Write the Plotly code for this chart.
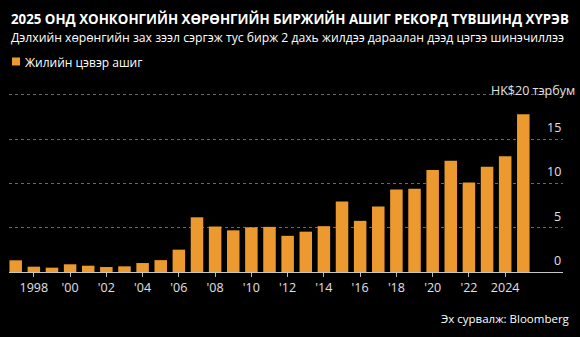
import plotly.graph_objects as go

years = list(range(1997, 2026))
profit = [1.32, 0.60, 0.49, 0.87, 0.71, 0.56, 0.64, 1.01, 1.34, 2.52,
          6.17, 5.13, 4.70, 5.04, 5.09, 4.08, 4.55, 5.17, 7.96, 5.77,
          7.40, 9.31, 9.39, 11.50, 12.54, 10.08, 11.86, 13.05, 17.80]
xtick_vals = list(range(1998, 2025, 2))
xtick_text = ["1998", "'00", "'02", "'04", "'06", "'08", "'10", "'12",
              "'14", "'16", "'18", "'20", "'22", "2024"]
ytick_vals = [0, 5, 10, 15, 20]
ytick_text = ["0", "5", "10", "15", "HK$20 тэрбум"]

title = "2025 ОНД ХОНКОНГИЙН ХӨРӨНГИЙН БИРЖИЙН АШИГ РЕКОРД ТҮВШИНД ХҮРЭВ"
subtitle = "Дэлхийн хөрөнгийн зах зээл сэргэж тус бирж 2 дахь жилдээ дараалан дээд цэгээ шинэчиллээ"
legend_name = "Жилийн цэвэр ашиг"
source = "Эх сурвалж: Bloomberg"

ORANGE = "#EC9A2F"
FONT = "Open Sans"

fig = go.Figure()
fig.add_trace(go.Bar(x=years, y=profit, marker=dict(color=ORANGE, line=dict(width=0)),
                     width=0.69, name=legend_name, showlegend=False))

W, H = 580, 337
ml, mr, mt, mb = 9, 17, 92, 65

fig.update_layout(
    width=W, height=H,
    margin=dict(l=ml, r=mr, t=mt, b=mb),
    paper_bgcolor="#000000", plot_bgcolor="#000000",
    font=dict(family=FONT, color="#e6e6e6", size=12),
    bargap=0.3,
)
fig.update_xaxes(range=[1996.63, 2027.19], tickvals=xtick_vals, ticktext=xtick_text,
                 ticks="outside", ticklen=4, tickcolor="#bbbbbb", tickwidth=1,
                 showgrid=False, zeroline=False, showline=True, linecolor="#c8c8c8",
                 linewidth=1, tickfont=dict(size=12.5, color="#e0e0e0"))
fig.update_yaxes(range=[0, 20.3], tickvals=ytick_vals, showticklabels=False,
                 showgrid=True, gridcolor="#6a6a6a", griddash="dot", gridwidth=1,
                 zeroline=False)

for v, t in zip(ytick_vals, ytick_text):
    fig.add_annotation(x=1, xref="paper", xshift=14 if v == 20 else 0,
                       y=v, yref="y", yshift=-6 if v == 20 else 1, text=t, showarrow=False,
                       xanchor="right", yanchor="bottom",
                       font=dict(size=12.5, color="#e0e0e0"))

fig.add_annotation(x=0, y=1, xref="paper", yref="paper", xshift=0, yshift=mt - 18.5,
                   text="<b>" + title + "</b>", showarrow=False, xanchor="left", yanchor="middle",
                   font=dict(size=13.3, color="#ffffff"))
fig.add_annotation(x=0, y=1, xref="paper", yref="paper", yshift=mt - 37,
                   text=subtitle, showarrow=False, xanchor="left", yanchor="middle",
                   font=dict(size=12.2, color="#ffffff"))
# legend
fig.add_shape(type="rect", xref="paper", yref="paper",
              x0=3 / (W - ml - mr), x1=11 / (W - ml - mr),
              y0=1 + (mt - 57.5) / (H - mt - mb), y1=1 + (mt - 65.5) / (H - mt - mb),
              fillcolor=ORANGE, line=dict(width=0))
fig.add_annotation(x=14 / (W - ml - mr), y=1, xref="paper", yref="paper", yshift=mt - 62,
                   text=legend_name, showarrow=False, xanchor="left", yanchor="middle",
                   font=dict(size=12, color="#ffffff"))
fig.add_annotation(x=1, y=0, xref="paper", yref="paper", xshift=9, yshift=-(318 - 272),
                   text=source, showarrow=False, xanchor="right", yanchor="middle",
                   font=dict(size=11.5, color="#ffffff"))

fig.write_html("out.html")
